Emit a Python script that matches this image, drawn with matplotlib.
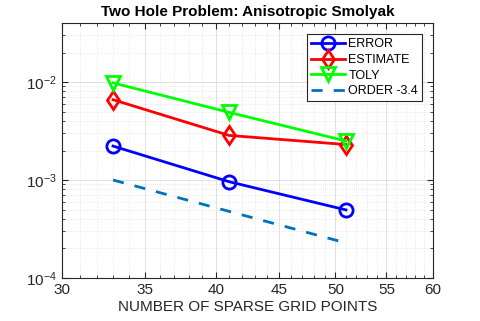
import numpy as np
import matplotlib.pyplot as plt
from matplotlib.ticker import FixedLocator, NullFormatter

plt.rcParams['font.family'] = ['Liberation Sans', 'DejaVu Sans']

# data
n_points = [33, 41, 51]
error = [2.22e-3, 9.6e-4, 4.95e-4]
estimate = [6.6e-3, 2.85e-3, 2.3e-3]
toly = [9.8e-3, 4.9e-3, 2.5e-3]
order_ref = [1.0e-3, 4.78e-4, 2.28e-4]

x_ticks = [30, 35, 40, 45, 50, 55, 60]
x_minor = list(range(30, 61))

fig = plt.figure(figsize=(4.8, 3.21), dpi=100)
ax = fig.add_axes([62 / 480, 1 - 278 / 321, (433 - 62) / 480, (278 - 23) / 321])

ax.plot(n_points, error, color='#0000ff', lw=2, marker='o', ms=9.5,
        mfc='none', mew=2, label='ERROR')
ax.plot(n_points, estimate, color='#ff0000', lw=2, marker='d', ms=9.5,
        mfc='none', mew=2, label='ESTIMATE')
ax.plot(n_points, toly, color='#00ff00', lw=2, marker='v', ms=9.5,
        mfc='none', mew=2, label='TOLY')
ax.plot(n_points, order_ref, color='#0072bd', lw=2, ls=(0, (4, 4)),
        label='ORDER -3.4')

ax.set_xscale('log')
ax.set_yscale('log')
ax.set_xlim(30, 60)
ax.set_ylim(1e-4, 4e-2)

ax.xaxis.set_major_locator(FixedLocator(x_ticks))
ax.set_xticklabels([str(t) for t in x_ticks])
ax.xaxis.set_minor_locator(FixedLocator(x_minor))
ax.xaxis.set_minor_formatter(NullFormatter())
ax.set_yticks([1e-4, 1e-3, 1e-2])

ax.grid(True, which='major', color='#dcdcdc', lw=0.6)
ax.grid(True, which='minor', color='#e2e2e2', lw=0.6, ls=':')
ax.set_axisbelow(True)

ax.tick_params(which='both', direction='in', top=True, right=True,
               colors='#262626', labelsize=11)
ax.tick_params(which='major', length=4)
ax.tick_params(which='minor', length=2)
for s in ax.spines.values():
    s.set_color('#262626')
    s.set_linewidth(0.8)

ax.set_title('Two Hole Problem: Anisotropic Smolyak', fontsize=11,
             fontweight='bold', pad=5)
ax.set_xlabel('NUMBER OF SPARSE GRID POINTS', fontsize=11, color='#262626',
              labelpad=2)

leg = ax.legend(loc='upper right', bbox_to_anchor=(0.97, 0.955), fontsize=9,
                fancybox=False, framealpha=1, edgecolor='#262626',
                handlelength=2.7, handletextpad=0.3, borderpad=0.3,
                labelspacing=0.3, borderaxespad=0)
leg.get_frame().set_linewidth(0.8)

fig.savefig('out.png', dpi=100)
